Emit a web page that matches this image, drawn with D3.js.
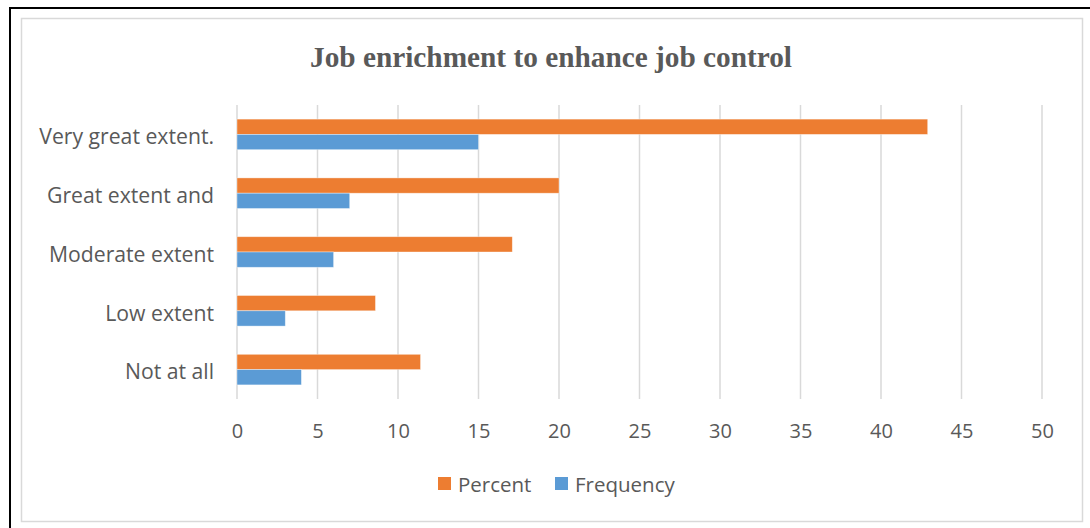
<!DOCTYPE html>
<html>
<head>
<meta charset="utf-8">
<script src="https://cdn.jsdelivr.net/npm/d3@7"></script>
<style>
  html, body { margin: 0; padding: 0; background: #fff; }
  svg { display: block; }
</style>
</head>
<body>
<div id="chart"></div>
<script>
// data
const categories = ["Not at all", "Low extent", "Moderate extent", "Great extent and", "Very great extent."];
const frequency = [4, 3, 6, 7, 15];
const percent = [11.4, 8.6, 17.1, 20, 42.9];
const xTicks = [0, 5, 10, 15, 20, 25, 30, 35, 40, 45, 50];
const seriesNames = ["Percent", "Frequency"];

const width = 1090, height = 528;
const plot = { left: 237, right: 1042, top: 105, bottom: 399 };
const textColor = "#595959";
const font = "'Open Sans', sans-serif";
const colors = { Percent: "#ED7D31", Frequency: "#5B9BD5" };

let svg = d3.select("#chart")
    .append("svg")
    .attr("width", width)
    .attr("height", height);

// outer black frame (only top and left are visible in the picture)
svg.append("path")
    .attr("d", "M10,528 L10,8 L1090,8")
    .attr("fill", "none")
    .attr("stroke", "#000")
    .attr("stroke-width", 2);

// chart area border
svg.append("rect")
    .attr("x", 21.5).attr("y", 18.5)
    .attr("width", 1061).attr("height", 503)
    .attr("fill", "#fff")
    .attr("stroke", "#d9d9d9")
    .attr("stroke-width", 1.5);

// scales
let x = d3.scaleLinear()
    .domain([0, 50])
    .range([plot.left, plot.right]);

let y = d3.scaleBand()
    .domain(categories)
    .range([plot.bottom, plot.top])
    .paddingInner(0.48)
    .paddingOuter(0.24);

let y1 = d3.scaleBand()
    .domain(seriesNames)
    .range([0, y.bandwidth()]);

// gridlines
svg.append("g")
    .selectAll("line")
    .data(xTicks)
    .enter()
    .append("line")
    .attr("x1", d => x(d)).attr("x2", d => x(d))
    .attr("y1", plot.top).attr("y2", plot.bottom)
    .attr("stroke", "#d9d9d9")
    .attr("stroke-width", 1.5);

// x axis labels
let xAxis = svg.append("g")
    .attr("transform", `translate(0, ${plot.bottom + 17})`)
    .call(d3.axisBottom(x).tickValues(xTicks).tickSize(0).tickPadding(8));
xAxis.select(".domain").remove();
xAxis.selectAll("text")
    .style("font-family", font)
    .style("font-size", "20px")
    .attr("fill", textColor);

// y axis labels
let yAxis = svg.append("g")
    .attr("transform", `translate(${plot.left - 23}, 3)`)
    .call(d3.axisLeft(y).tickSize(0).tickPadding(0));
yAxis.select(".domain").remove();
yAxis.selectAll("text")
    .style("font-family", font)
    .style("font-size", "21.2px")
    .attr("fill", textColor);

// bars
let rows = categories.map((c, i) => ({ cat: c, Percent: percent[i], Frequency: frequency[i] }));

let groups = svg.append("g")
    .selectAll("g")
    .data(rows)
    .enter()
    .append("g")
    .attr("transform", d => `translate(0, ${y(d.cat)})`);

groups.selectAll("rect")
    .data(d => seriesNames.map(s => ({ s: s, v: d[s] })))
    .enter()
    .append("rect")
    .attr("x", x(0))
    .attr("y", d => y1(d.s))
    .attr("width", d => x(d.v) - x(0))
    .attr("height", y1.bandwidth())
    .attr("fill", d => colors[d.s])
    .attr("stroke", "#fff")
    .attr("stroke-opacity", 0.5)
    .attr("stroke-width", 0.75);

// title
svg.append("text")
    .attr("x", 551)
    .attr("y", 67)
    .attr("text-anchor", "middle")
    .style("font-family", "'Liberation Serif', 'Times New Roman', serif")
    .style("font-weight", "bold")
    .style("font-size", "29.3px")
    .attr("fill", textColor)
    .text("Job enrichment to enhance job control");

// legend
let legend = svg.append("g");
let legendX = [438, 555];
seriesNames.forEach((s, i) => {
    legend.append("rect")
        .attr("x", legendX[i]).attr("y", 477)
        .attr("width", 13).attr("height", 13)
        .attr("fill", colors[s]);
    legend.append("text")
        .attr("x", legendX[i] + 20).attr("y", 485)
        .attr("dy", "0.35em")
        .style("font-family", font)
        .style("font-size", "20.5px")
        .attr("fill", textColor)
        .text(s);
});
</script>
</body>
</html>
